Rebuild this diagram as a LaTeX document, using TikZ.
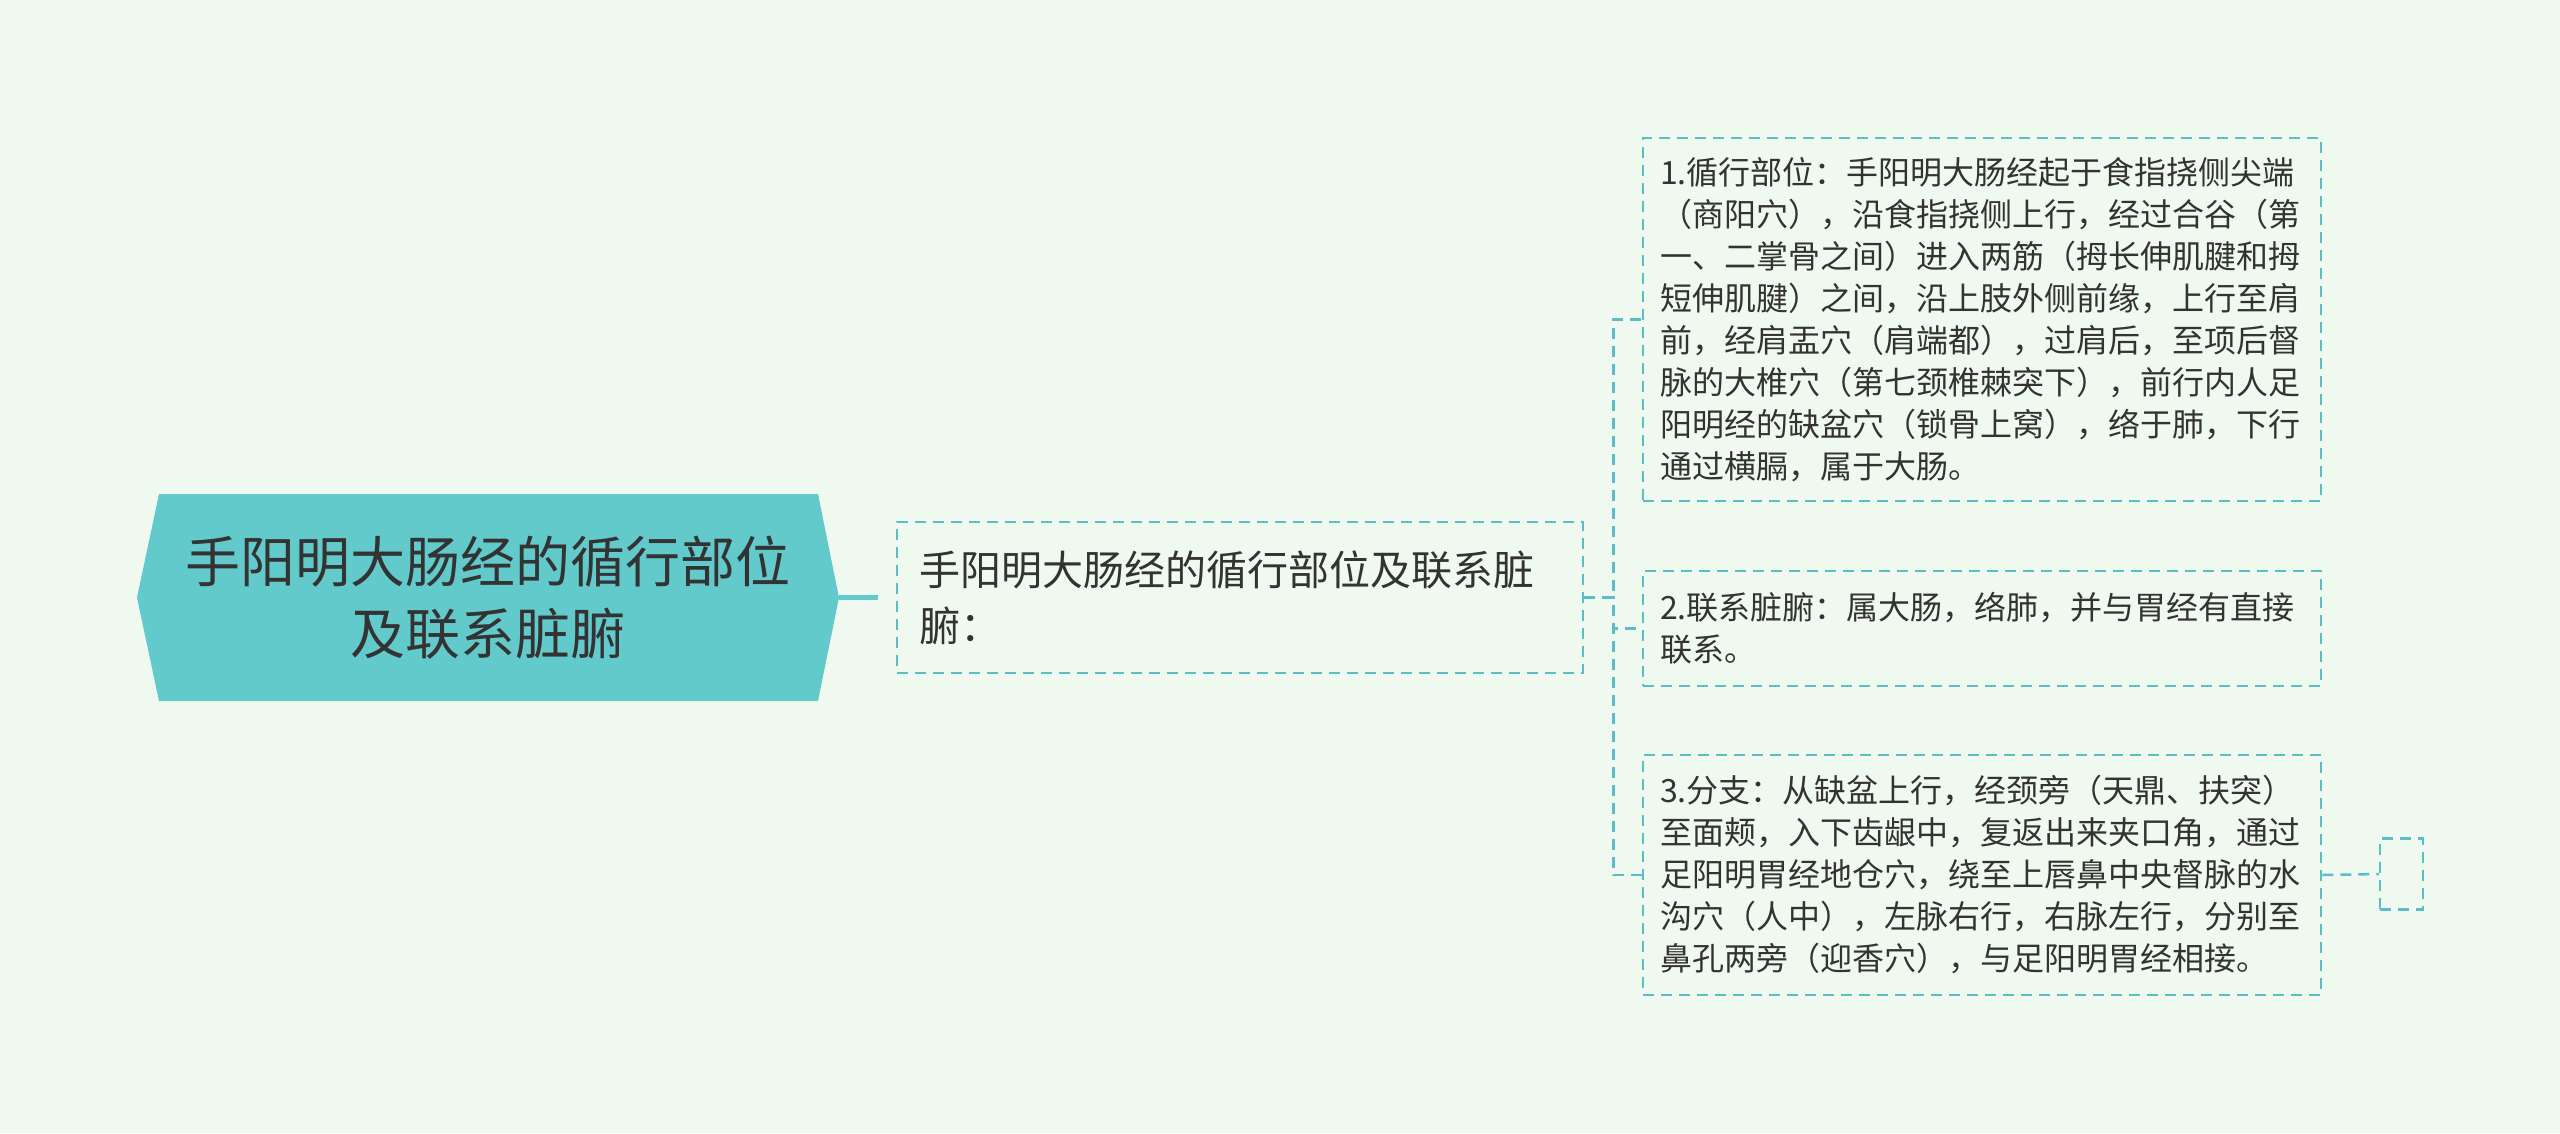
\documentclass[tikz,border=0pt]{standalone}
\usepackage{fontspec}
\setmainfont{Noto Sans CJK SC}
\definecolor{bgc}{HTML}{F0F9EF}
\definecolor{rootfill}{HTML}{63CACC}
\definecolor{dashc}{HTML}{5BBDC5}
\definecolor{txt}{HTML}{333333}
\begin{document}
\begin{tikzpicture}[x=1pt,y=-1pt,
  dbox/.style={rectangle, draw=dashc, line width=2.5pt, dash pattern=on 11pt off 7pt, text=txt, align=left, inner ysep=0pt},
  cbox/.style={dbox, text width=644pt, inner xsep=17pt, minimum width=678pt, font=\fontsize{32}{42}\selectfont},
  dconn/.style={draw=dashc, line width=2.5pt, dash pattern=on 11pt off 7pt},
  rootconn/.style={draw=rootfill, line width=5pt},
  rootbox/.style={rectangle, inner sep=0pt, minimum width=702pt, minimum height=207pt, align=center, text=txt,
    font=\fontsize{55}{72}\selectfont,
    path picture={\fill[rootfill] (path picture bounding box.west) -- ([xshift=22pt]path picture bounding box.north west) -- ([xshift=-21pt]path picture bounding box.north east) -- (path picture bounding box.east) -- ([xshift=-21pt]path picture bounding box.south east) -- ([xshift=22pt]path picture bounding box.south west) -- cycle;}}
]
\fill[bgc] (0,0) rectangle (2560,1133);
\useasboundingbox (0,0) rectangle (2560,1133);

\node[rootbox] (root) at (488,597.5) {手阳明大肠经的循行部位\\及联系脏腑};

\node[dbox, text width=642pt, inner xsep=22pt, minimum width=686pt, minimum height=151pt, font=\fontsize{41}{56}\selectfont] (n2) at (1240,597.5) {手阳明大肠经的循行部位及联系脏\\腑：};

\node[cbox, minimum height=363pt] (c1) at (1982,319.5) {1.循行部位：手阳明大肠经起于食指挠侧尖端\\（商阳穴），沿食指挠侧上行，经过合谷（第\\一、二掌骨之间）进入两筋（拇长伸肌腱和拇\\短伸肌腱）之间，沿上肢外侧前缘，上行至肩\\前，经肩盂穴（肩端都），过肩后，至项后督\\脉的大椎穴（第七颈椎棘突下），前行内人足\\阳明经的缺盆穴（锁骨上窝），络于肺，下行\\通过横膈，属于大肠。};

\node[cbox, minimum height=115pt] (c2) at (1982,628.5) {2.联系脏腑：属大肠，络肺，并与胃经有直接\\联系。};

\node[cbox, minimum height=240pt] (c3) at (1982,875) {3.分支：从缺盆上行，经颈旁（天鼎、扶突）\\至面颊，入下齿龈中，复返出来夹口角，通过\\足阳明胃经地仓穴，绕至上唇鼻中央督脉的水\\沟穴（人中），左脉右行，右脉左行，分别至\\鼻孔两旁（迎香穴），与足阳明胃经相接。};

\node[dbox, minimum width=43pt, minimum height=71pt, inner sep=0pt] (leaf) at (2401.5,874) {};

\draw[rootconn] (root.east) -- ([xshift=-18pt]n2.west);
\draw[dconn] (n2.east) -- ++(29,0) |- (c1.west);
\draw[dconn] (n2.east) -- ++(29,0) |- (c2.west);
\draw[dconn] (n2.east) -- ++(29,0) |- (c3.west);
\draw[dconn] (c3.east) -- (leaf.west);
\end{tikzpicture}
\end{document}
